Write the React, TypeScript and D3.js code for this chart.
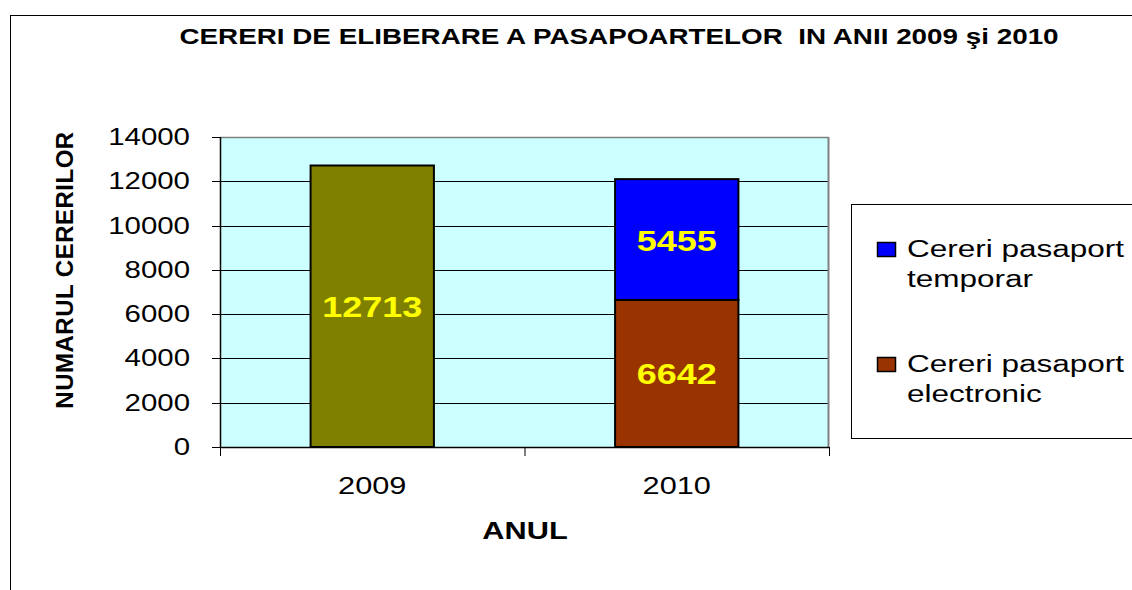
import * as d3 from 'd3'

const categories = ['2009', '2010']
const seriesKeys = ['total2009', 'electronic', 'temporar']
const total2009 = [12713, 0]
const electronic = [0, 6642]
const temporar = [0, 5455]
const yTicks = [0, 2000, 4000, 6000, 8000, 10000, 12000, 14000]

const legendItems = [
  { key: 'temporar', lines: ['Cereri pasaport', 'temporar'] },
  { key: 'electronic', lines: ['Cereri pasaport', 'electronic'] },
]

const colors: Record<string, string> = {
  total2009: '#808000',
  electronic: '#993300',
  temporar: '#0000FF',
}

const width = 1132
const height = 590
const plotLeft = 220
const plotRight = 829
const plotTop = 137
const plotBottom = 447
const barRatio = 0.405
// the original picture is stretched sideways, so text is widened to match
const sx = 1.28
const font = '"Liberation Sans", Arial, sans-serif'

function Stretched({ x, y, size, bold, anchor, fill, scaleX, children }: {
  x: number
  y: number
  size: number
  bold?: boolean
  anchor?: 'start' | 'middle' | 'end'
  fill?: string
  scaleX?: number
  children: string
}) {
  return (
    <text
      transform={`translate(${x},${y}) scale(${scaleX ?? sx},1)`}
      fontSize={size}
      fontWeight={bold ? 'bold' : 'normal'}
      textAnchor={anchor ?? 'start'}
      fill={fill ?? '#000'}
      fontFamily={font}
      style={{ whiteSpace: 'pre' }}
    >
      {children}
    </text>
  )
}

export default function App() {
  const rows = categories.map((cat, i) => ({
    cat,
    total2009: total2009[i],
    electronic: electronic[i],
    temporar: temporar[i],
  }))
  const stacked = d3.stack<any>().keys(seriesKeys)(rows)

  const x = d3.scaleBand<string>().domain(categories).range([plotLeft, plotRight]).padding(0)
  const y = d3.scaleLinear().domain([0, 14000]).range([plotBottom, plotTop])
  const barW = x.bandwidth() * barRatio
  const barX = (cat: string) => (x(cat) ?? 0) + (x.bandwidth() - barW) / 2

  const xTickPos = [plotLeft, ...categories.map((c) => (x(c) ?? 0) + x.bandwidth())]

  return (
    <svg
      width={width}
      height={height}
      style={{ position: 'absolute', left: 0, top: 0, background: '#fff' }}
    >
      <rect x={10.5} y={15.5} width={width + 20} height={height + 20} fill="#fff" stroke="#000" strokeWidth={1} />

      <Stretched x={619} y={44} size={22} bold anchor="middle" scaleX={1.265}>
        CERERI DE ELIBERARE A PASAPOARTELOR  IN ANII 2009 şi 2010
      </Stretched>

      <rect x={plotLeft} y={plotTop} width={plotRight - plotLeft} height={plotBottom - plotTop} fill="#CCFFFF" />

      {yTicks.slice(1, -1).map((t) => (
        <line key={t} x1={plotLeft} x2={plotRight} y1={Math.round(y(t)) + 0.5} y2={Math.round(y(t)) + 0.5} stroke="#000" strokeWidth={1} />
      ))}
      <line x1={plotLeft} x2={plotRight} y1={plotTop + 0.5} y2={plotTop + 0.5} stroke="#808080" strokeWidth={1.5} />
      <line x1={plotRight - 0.5} x2={plotRight - 0.5} y1={plotTop} y2={plotBottom} stroke="#808080" strokeWidth={2} />

      {stacked.map((layer) => (
        <g key={layer.key} fill={colors[layer.key]} stroke="#000" strokeWidth={2}>
          {layer.map((d, i) => {
            if (d[1] - d[0] <= 0) return null
            return (
              <rect
                key={i}
                x={barX(categories[i])}
                y={y(d[1])}
                width={barW}
                height={y(d[0]) - y(d[1])}
              />
            )
          })}
        </g>
      ))}

      {stacked.map((layer) =>
        layer.map((d, i) => {
          const v = d[1] - d[0]
          if (v <= 0) return null
          return (
            <Stretched
              key={`${layer.key}-${i}`}
              x={barX(categories[i]) + barW / 2}
              y={(y(d[0]) + y(d[1])) / 2 + 11}
              size={30}
              bold
              anchor="middle"
              fill="#FFFF00"
              scaleX={1.2}
            >
              {String(v)}
            </Stretched>
          )
        }),
      )}

      <line x1={plotLeft + 0.5} x2={plotLeft + 0.5} y1={plotTop} y2={plotBottom} stroke="#000" strokeWidth={1.5} />
      <line x1={plotLeft} x2={plotRight} y1={plotBottom + 0.5} y2={plotBottom + 0.5} stroke="#000" strokeWidth={1.5} />

      {yTicks.map((t) => (
        <g key={t}>
          <line x1={plotLeft - 8} x2={plotLeft} y1={Math.round(y(t)) + 0.5} y2={Math.round(y(t)) + 0.5} stroke="#000" strokeWidth={1} />
          <Stretched x={190} y={y(t) + 8} size={23} anchor="end">
            {String(t)}
          </Stretched>
        </g>
      ))}

      {xTickPos.map((p) => (
        <line key={p} x1={p + 0.5} x2={p + 0.5} y1={plotBottom} y2={plotBottom + 9} stroke="#000" strokeWidth={1} />
      ))}
      {categories.map((c) => (
        <Stretched key={c} x={(x(c) ?? 0) + x.bandwidth() / 2} y={494} size={24} anchor="middle">
          {c}
        </Stretched>
      ))}

      <Stretched x={525} y={539} size={24} bold anchor="middle">
        ANUL
      </Stretched>

      <text
        transform="translate(73,270) rotate(-90)"
        fontSize={24}
        fontWeight="bold"
        textAnchor="middle"
        fontFamily={font}
        letterSpacing={0.5}
      >
        NUMARUL CERERILOR
      </text>

      <rect x={851.5} y={204.5} width={320} height={234} fill="#fff" stroke="#000" strokeWidth={1} />
      {legendItems.map((item, i) => {
        const base = 257 + i * 115
        return (
          <g key={item.key}>
            <rect x={877.5} y={base - 14.5} width={18} height={14} fill={colors[item.key]} stroke="#000" strokeWidth={1.5} />
            {item.lines.map((line, j) => (
              <Stretched key={j} x={907} y={base + j * 30} size={23} scaleX={1.37}>
                {line}
              </Stretched>
            ))}
          </g>
        )
      })}
    </svg>
  )
}
